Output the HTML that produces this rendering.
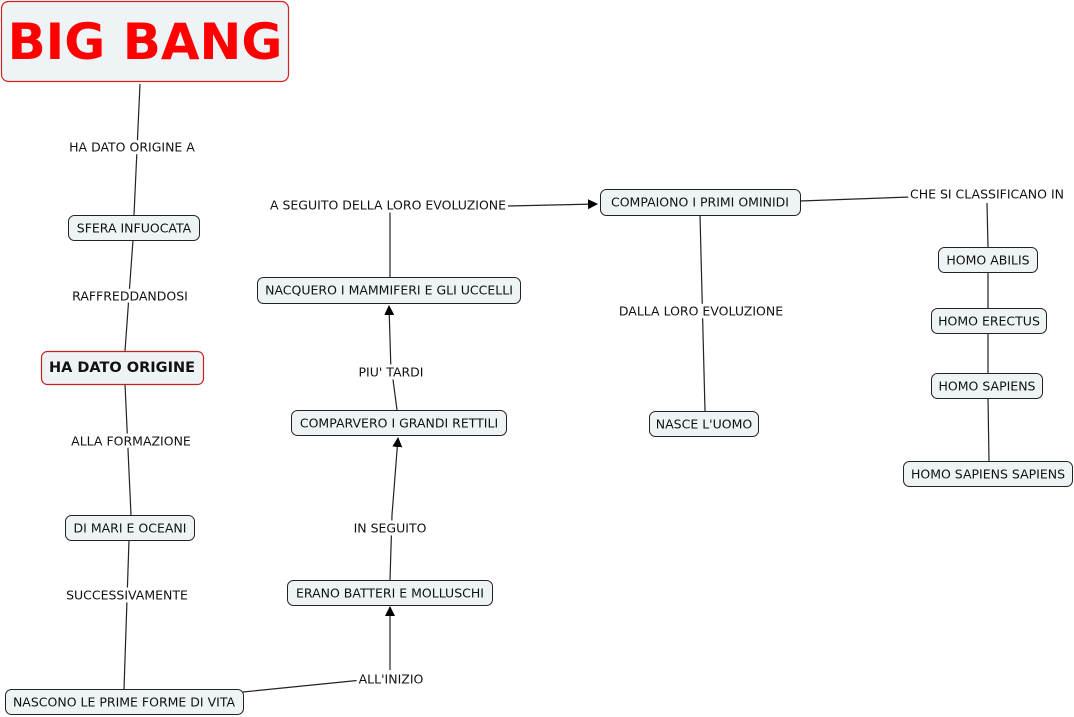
<!DOCTYPE html>
<html><head><meta charset="utf-8"><style>
html,body{margin:0;padding:0;background:#fff;}
svg{display:block;}
text{font-family:"DejaVu Sans","Liberation Sans",sans-serif;font-size:12.5px;fill:#111;text-anchor:middle;dominant-baseline:central;}
.lb{stroke:#fff;stroke-width:6px;paint-order:stroke;stroke-linejoin:round;}
.n{fill:#eef3f5;stroke:#222;stroke-width:1;}
line{stroke:#222;stroke-width:1.2;}
</style></head><body>
<svg width="1074" height="717" viewBox="0 0 1074 717">
<defs><marker id="a" markerWidth="10" markerHeight="10" refX="9" refY="5" orient="auto" markerUnits="userSpaceOnUse"><path d="M0,0 L10,5 L0,10 z" fill="#000"/></marker></defs>
<line x1="140" y1="84" x2="134" y2="215"/>
<line x1="133" y1="240" x2="125" y2="351"/>
<line x1="125" y1="384" x2="131" y2="515"/>
<line x1="129" y1="540" x2="124" y2="689"/>
<line x1="243" y1="692" x2="372" y2="679"/>
<line x1="390" y1="670" x2="390" y2="607" marker-end="url(#a)"/>
<line x1="390" y1="580" x2="392" y2="515"/>
<line x1="392" y1="515" x2="398" y2="438" marker-end="url(#a)"/>
<line x1="397" y1="410" x2="392" y2="372"/>
<line x1="391" y1="372" x2="389" y2="306" marker-end="url(#a)"/>
<line x1="390" y1="277" x2="390" y2="206"/>
<line x1="508" y1="206" x2="597" y2="204" marker-end="url(#a)"/>
<line x1="700" y1="215" x2="705" y2="411"/>
<line x1="800" y1="201" x2="910" y2="197"/>
<line x1="987" y1="203" x2="988" y2="247"/>
<line x1="988" y1="272" x2="988" y2="308"/>
<line x1="988" y1="333" x2="988" y2="373"/>
<line x1="988" y1="398" x2="989" y2="461"/>
<text class="lb" x="132" y="147">HA DATO ORIGINE A</text>
<text class="lb" x="130" y="296">RAFFREDDANDOSI</text>
<text class="lb" x="131" y="441">ALLA FORMAZIONE</text>
<text class="lb" x="127" y="595">SUCCESSIVAMENTE</text>
<text class="lb" x="391" y="679">ALL'INIZIO</text>
<text class="lb" x="390" y="528">IN SEGUITO</text>
<text class="lb" x="391" y="372">PIU' TARDI</text>
<text class="lb" x="388" y="205">A SEGUITO DELLA LORO EVOLUZIONE</text>
<text class="lb" x="701" y="311">DALLA LORO EVOLUZIONE</text>
<text class="lb" x="987" y="194">CHE SI CLASSIFICANO IN</text>
<rect x="1.5" y="1.5" width="287" height="80" rx="7" fill="#eef3f5" stroke="#d42020" stroke-width="1.2"/>
<text x="145" y="42" style="font-family:'DejaVu Sans',sans-serif;font-weight:bold;font-size:50px;fill:#f00;">BIG BANG</text>
<rect class="n" x="68.5" y="215.5" width="131" height="25" rx="6"/><text x="134" y="228">SFERA INFUOCATA</text>
<rect x="41.5" y="351.5" width="162" height="33" rx="6" fill="#eef3f5" stroke="#c82020" stroke-width="1.2"/>
<text x="122" y="368" style="font-weight:bold;font-size:14.5px;">HA DATO ORIGINE</text>
<rect class="n" x="65.5" y="515.5" width="129" height="25" rx="6"/><text x="130" y="528">DI MARI E OCEANI</text>
<rect class="n" x="5.5" y="689.5" width="238" height="25" rx="6"/><text x="124" y="702">NASCONO LE PRIME FORME DI VITA</text>
<rect class="n" x="287.5" y="580.5" width="205" height="25" rx="6"/><text x="390" y="593">ERANO BATTERI E MOLLUSCHI</text>
<rect class="n" x="291.5" y="410.5" width="215" height="25" rx="6"/><text x="399" y="423">COMPARVERO I GRANDI RETTILI</text>
<rect class="n" x="257.5" y="277.5" width="263" height="26" rx="6"/><text x="389" y="290">NACQUERO I MAMMIFERI E GLI UCCELLI</text>
<rect class="n" x="600.5" y="189.5" width="200" height="26" rx="6"/><text x="700" y="202">COMPAIONO I PRIMI OMINIDI</text>
<rect class="n" x="649.5" y="411.5" width="109" height="25" rx="6"/><text x="704" y="424">NASCE L'UOMO</text>
<rect class="n" x="938.5" y="247.5" width="99" height="25" rx="6"/><text x="988" y="260">HOMO ABILIS</text>
<rect class="n" x="931.5" y="308.5" width="115" height="25" rx="6"/><text x="989" y="321">HOMO ERECTUS</text>
<rect class="n" x="931.5" y="373.5" width="111" height="25" rx="6"/><text x="987" y="386">HOMO SAPIENS</text>
<rect class="n" x="903.5" y="461.5" width="169" height="25" rx="6"/><text x="988" y="474">HOMO SAPIENS SAPIENS</text>
</svg>
</body></html>
